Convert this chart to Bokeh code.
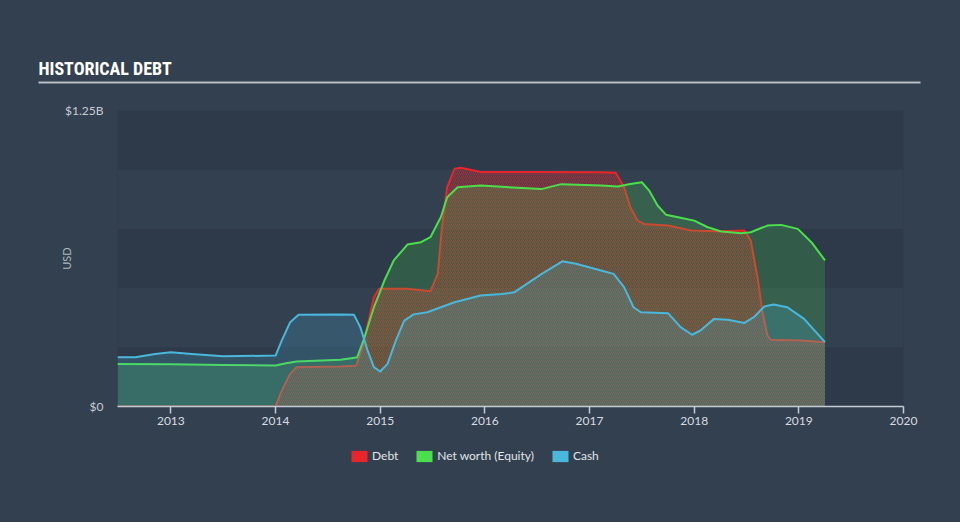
from bokeh.plotting import figure
from bokeh.layouts import column
from bokeh.models import Range1d, FixedTicker, Label, BoxAnnotation, Legend, LegendItem
from bokeh.embed import file_html
from bokeh.resources import INLINE

# ---- data (values in billions USD, x in decimal years) ----
debt_x = [2012.49, 2014.0, 2014.06, 2014.14, 2014.2, 2014.62, 2014.77, 2014.83, 2014.89,
          2014.94, 2014.99, 2015.26, 2015.48, 2015.55, 2015.59, 2015.64, 2015.71, 2015.77,
          2015.96, 2016.5, 2017.11, 2017.25, 2017.33, 2017.39, 2017.46, 2017.52, 2017.75,
          2017.97, 2018.22, 2018.48, 2018.54, 2018.61, 2018.65, 2018.7, 2018.73, 2019.02,
          2019.25]
debt_y = [0.0, 0.0, 0.068, 0.138, 0.166, 0.169, 0.172, 0.25, 0.363,
          0.462, 0.497, 0.497, 0.487, 0.56, 0.757, 0.926, 1.004, 1.008,
          0.99, 0.99, 0.989, 0.987, 0.926, 0.842, 0.785, 0.771, 0.764,
          0.743, 0.74, 0.743, 0.701, 0.532, 0.405, 0.3, 0.282, 0.279,
          0.271]

equity_x = [2012.49, 2013.0, 2013.5, 2014.0, 2014.1, 2014.2, 2014.5, 2014.62, 2014.74,
            2014.78, 2014.84, 2014.94, 2015.04, 2015.13, 2015.26, 2015.39, 2015.48, 2015.58,
            2015.64, 2015.74, 2015.96, 2016.16, 2016.54, 2016.73, 2017.11, 2017.27, 2017.39,
            2017.5, 2017.57, 2017.65, 2017.73, 2017.87, 2018.0, 2018.13, 2018.26, 2018.45,
            2018.54, 2018.7, 2018.83, 2018.99, 2019.12, 2019.25]
equity_y = [0.18, 0.178, 0.175, 0.173, 0.183, 0.19, 0.195, 0.197, 0.205,
            0.208, 0.279, 0.419, 0.532, 0.617, 0.684, 0.694, 0.715, 0.8,
            0.884, 0.926, 0.933, 0.928, 0.918, 0.939, 0.933, 0.929, 0.94,
            0.947, 0.912, 0.849, 0.81, 0.797, 0.785, 0.757, 0.739, 0.732,
            0.736, 0.764, 0.767, 0.75, 0.694, 0.617]

cash_x = [2012.49, 2012.66, 2012.85, 2013.0, 2013.2, 2013.5, 2014.0, 2014.06, 2014.14,
          2014.22, 2014.62, 2014.75, 2014.81, 2014.88, 2014.94, 2015.0, 2015.07, 2015.15,
          2015.23, 2015.32, 2015.45, 2015.58, 2015.71, 2015.96, 2016.16, 2016.28, 2016.54,
          2016.74, 2016.87, 2017.11, 2017.23, 2017.33, 2017.42, 2017.49, 2017.75, 2017.87,
          2017.98, 2018.06, 2018.19, 2018.32, 2018.48, 2018.57, 2018.67, 2018.76, 2018.89,
          2019.05, 2019.25]
cash_y = [0.208, 0.208, 0.222, 0.229, 0.222, 0.212, 0.215, 0.279, 0.356,
          0.387, 0.389, 0.387, 0.335, 0.236, 0.166, 0.148, 0.18, 0.279,
          0.363, 0.389, 0.398, 0.419, 0.44, 0.469, 0.475, 0.482, 0.559,
          0.613, 0.603, 0.574, 0.56, 0.504, 0.419, 0.398, 0.394, 0.335,
          0.303, 0.321, 0.37, 0.366, 0.353, 0.377, 0.422, 0.431, 0.419,
          0.37, 0.272]

year_ticks = [2013, 2014, 2015, 2016, 2017, 2018, 2019, 2020]
y_ticks = [0, 1.25]
y_tick_labels = {0: "$0", 1.25: "$1.25B"}
band_ticks = [0, 0.25, 0.5, 0.75, 1.0, 1.25]
series_names = ["Debt", "Net worth (Equity)", "Cash"]
title_text = "HISTORICAL DEBT"

BG = "#334050"
DARK = "#2e3a49"
DEBT = "#e8262a"
EQUITY = "#4be04b"
CASH = "#4ab8dc"
FONT = "Lato"
TITLE_FONT = "'Roboto Condensed', 'DejaVu Sans Condensed', 'Liberation Sans Narrow', Roboto, sans-serif"


def blank(height, yr):
    f = figure(width=960, height=height, output_backend="svg", toolbar_location=None,
               x_range=Range1d(0, 960), y_range=Range1d(0, yr),
               x_axis_location=None, y_axis_location=None,
               min_border=0, min_border_left=0, min_border_right=0,
               min_border_top=0, min_border_bottom=0, frame_align=False)
    f.background_fill_color = None
    f.border_fill_color = None
    f.outline_line_color = None
    f.grid.visible = False
    return f


# ---- header with title and rule ----
head = blank(95, 95)
head.add_layout(Label(x=38, y=27, text=title_text, text_font=TITLE_FONT,
                      text_font_style="bold", text_font_size="18px", text_color="#ffffff",
                      text_baseline="alphabetic"))
head.add_layout(BoxAnnotation(left=38, right=920, bottom=12, top=14,
                              fill_color="#b8bec4", fill_alpha=1.0, line_color=None))

# ---- main chart ----
p = figure(width=960, height=345, output_backend="svg", toolbar_location=None,
           x_range=Range1d(2012.49, 2020.0), y_range=Range1d(0, 1.25),
           min_border_left=117, min_border_right=57, min_border_top=15,
           min_border_bottom=34, frame_align=False)
p.background_fill_color = DARK
p.border_fill_color = None
p.outline_line_color = None

p.xgrid.visible = False
p.ygrid.ticker = FixedTicker(ticks=band_ticks)
p.ygrid.grid_line_color = None
p.ygrid.band_fill_color = BG
p.ygrid.band_fill_alpha = 1.0

p.varea(x=debt_x, y1=0, y2=debt_y, fill_color=DEBT, fill_alpha=0.12,
        hatch_pattern="/", hatch_color=DEBT, hatch_alpha=0.6, hatch_scale=4, hatch_weight=1)
p.line(debt_x, debt_y, line_color=DEBT, line_width=2, line_join="round")
p.varea(x=equity_x, y1=0, y2=equity_y, fill_color=EQUITY, fill_alpha=0.2)
p.line(equity_x, equity_y, line_color=EQUITY, line_width=2, line_join="round")
p.varea(x=cash_x, y1=0, y2=cash_y, fill_color=CASH, fill_alpha=0.2)
p.line(cash_x, cash_y, line_color=CASH, line_width=2, line_join="round")

xa = p.xaxis[0]
xa.ticker = FixedTicker(ticks=year_ticks)
xa.axis_line_color = "#c5ccd4"
xa.axis_line_width = 1.5
xa.major_tick_line_color = "#c5ccd4"
xa.major_tick_line_width = 1.5
xa.major_tick_out = 7
xa.major_tick_in = 0
xa.minor_tick_line_color = None
xa.major_label_standoff = 3
xa.major_label_text_font = FONT
xa.major_label_text_font_size = "12px"
xa.major_label_text_color = "#d8dce0"

ya = p.yaxis[0]
ya.ticker = FixedTicker(ticks=y_ticks)
ya.major_label_overrides = y_tick_labels
ya.axis_line_color = None
ya.major_tick_line_color = None
ya.minor_tick_line_color = None
ya.major_tick_out = 0
ya.major_tick_in = 0
ya.major_label_standoff = 14
ya.major_label_text_font = FONT
ya.major_label_text_font_size = "12px"
ya.major_label_text_color = "#c8ccd0"
ya.axis_label = "USD"
ya.axis_label_text_font = FONT
ya.axis_label_text_font_style = "normal"
ya.axis_label_text_font_size = "11px"
ya.axis_label_text_color = "#b0b6bc"
ya.axis_label_standoff = -11

# ---- footer with legend ----
foot = blank(82, 82)
colors = [DEBT, EQUITY, CASH]
nan = float("nan")
items = []
for name, c in zip(series_names, colors):
    r = foot.quad(left=[nan], right=[nan], top=[nan], bottom=[nan], fill_color=c,
                  line_color=None)
    items.append(LegendItem(label=name, renderers=[r]))
legend = Legend(items=items, orientation="horizontal", location=(349, 59), padding=0,
                margin=0, spacing=16, glyph_width=20, glyph_height=14, label_standoff=3,
                label_height=14, label_text_font=FONT, label_text_font_size="12px",
                label_text_color="#e0e4e8", background_fill_alpha=0,
                border_line_color=None)
foot.add_layout(legend)

layout = column(head, p, foot, spacing=0, styles={"background-color": BG})
open("out.html", "w").write(file_html(layout, INLINE))
